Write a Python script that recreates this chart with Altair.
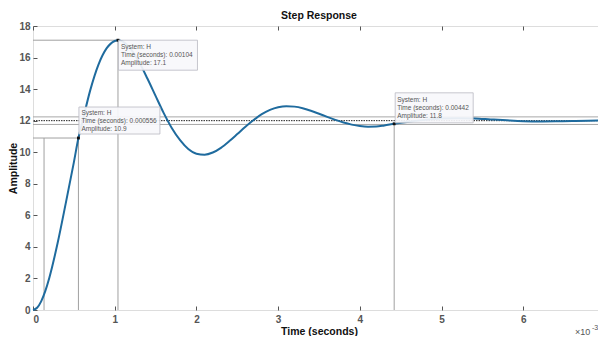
import altair as alt
import pandas as pd

# ---- data (time in ms, i.e. x 10^-3 s) ----
time_ms = [0, 0.05, 0.1, 0.15, 0.2, 0.3, 0.4, 0.5, 0.556, 0.6, 0.7, 0.8, 0.9, 1.0, 1.04,
           1.1, 1.2, 1.3, 1.4, 1.5, 1.6, 1.7, 1.8, 1.9, 2.0, 2.1, 2.2, 2.3, 2.4, 2.5,
           2.6, 2.7, 2.8, 2.9, 3.0, 3.1, 3.2, 3.3, 3.4, 3.5, 3.6, 3.7, 3.8, 3.9, 4.0,
           4.1, 4.2, 4.3, 4.42, 4.6, 4.8, 5.0, 5.2, 5.4, 5.6, 5.8, 6.0, 6.2, 6.4, 6.6,
           6.8, 7.0]
amplitude = [0, 0.14, 0.55, 1.2, 2.05, 4.21, 6.74, 9.36, 10.9, 11.82, 13.92, 15.54, 16.58, 17.05, 17.1,
             17.01, 16.52, 15.70, 14.67, 13.57, 12.48, 11.52, 10.76, 10.2, 9.9, 9.84, 9.98, 10.28, 10.69, 11.15,
             11.62, 12.04, 12.41, 12.68, 12.85, 12.92, 12.89, 12.79, 12.63, 12.44, 12.24, 12.05, 11.88, 11.75, 11.66,
             11.62, 11.63, 11.7, 11.8, 11.93, 12.05, 12.13, 12.16, 12.14, 12.08, 12.02, 11.97, 11.95, 11.96, 11.98,
             12.0, 12.01]

final_value = [12.0]
settle_band = [11.76, 12.24]

# characteristic guide segments: (x0, x1, y0, y1)
seg_x0 = [0, 1.04, 0, 0.135, 0.556, 4.42]
seg_x1 = [1.04, 1.04, 0.556, 0.135, 0.556, 4.42]
seg_y0 = [17.1, 0, 10.9, 0, 0, 0]
seg_y1 = [17.1, 17.1, 10.9, 10.9, 10.9, 11.8]

tip_t = [1.04, 0.556, 4.42]
tip_a = [17.1, 10.9, 11.8]
tip_time_s = ["0.00104", "0.000556", "0.00442"]
tip_amp_txt = ["17.1", "10.9", "11.8"]

x_ticks = [0, 1, 2, 3, 4, 5, 6, 7]
y_ticks = [0, 2, 4, 6, 8, 10, 12, 14, 16, 18]

FONT = "Liberation Sans"
xs = alt.Scale(domain=[0, 7], nice=False, zero=False)
ys = alt.Scale(domain=[0, 18], nice=False, zero=False)

curve_df = pd.DataFrame({"t": time_ms, "a": amplitude})
seg_df = pd.DataFrame({"x0": seg_x0, "x1": seg_x1, "y0": seg_y0, "y1": seg_y1})
tips_df = pd.DataFrame({"t": tip_t, "a": tip_a})

# bottom/left axes (with labels), inward ticks via negative offset
curve = alt.Chart(curve_df).mark_line(
    color="#1f6b9e", strokeWidth=2, interpolate="monotone"
).encode(
    x=alt.X("t:Q", scale=xs, axis=alt.Axis(
        orient="bottom", values=x_ticks, format="d", offset=-4, tickSize=4,
        tickColor="#555", domain=False, grid=False, labelPadding=4,
        labelFont=FONT, labelFontSize=10, labelFontWeight="bold", labelColor="#555",
        title="Time (seconds)", titleFont=FONT, titleFontSize=10.5, titleFontWeight="bold",
        titleColor="#111", titlePadding=2)),
    y=alt.Y("a:Q", scale=ys, axis=alt.Axis(
        orient="left", values=y_ticks, format="d", offset=-4, tickSize=4,
        tickColor="#555", domain=False, grid=False, labelPadding=3,
        labelFont=FONT, labelFontSize=10, labelFontWeight="bold", labelColor="#555",
        title="Amplitude", titleFont=FONT, titleFontSize=10.5, titleFontWeight="bold",
        titleColor="#111", titlePadding=0)),
)

# top/right axes (ticks only)
band = alt.Chart(pd.DataFrame({"v": settle_band, "x": [0, 7]})).mark_rule(
    color="#a8a8a8", strokeWidth=1
).encode(
    y=alt.Y("v:Q", scale=ys, axis=alt.Axis(
        orient="right", values=y_ticks, offset=-4, tickSize=4, tickColor="#555",
        domain=False, labels=False, grid=False, title=None)),
)
top_axis = alt.Chart(pd.DataFrame({"x": [0, 7]})).mark_point(opacity=0).encode(
    x=alt.X("x:Q", scale=xs, axis=alt.Axis(
        orient="top", values=x_ticks, offset=-4, tickSize=4, tickColor="#555",
        domain=False, labels=False, grid=False, title=None)),
)

steady = alt.Chart(pd.DataFrame({"v": final_value})).mark_rule(
    color="#222", strokeWidth=1, strokeDash=[1.5, 1]
).encode(y=alt.Y("v:Q", scale=ys, axis=None))

segs = alt.Chart(seg_df).mark_rule(color="#a0a0a0", strokeWidth=1).encode(
    x=alt.X("x0:Q", scale=xs, axis=None), x2="x1:Q",
    y=alt.Y("y0:Q", scale=ys, axis=None), y2="y1:Q",
)

markers = alt.Chart(tips_df).mark_point(
    shape="square", filled=True, size=8, color="#111", opacity=1
).encode(x=alt.X("t:Q", scale=xs, axis=None), y=alt.Y("a:Q", scale=ys, axis=None))

# data-tip boxes: (x offset, y offset, width, height, text dy)
box_geo = [(40, 15, 79, 30, 4), (41, -17.5, 81, 27, -28), (40, -16, 78, 30, -27)]
tip_layers = []
for i in range(3):
    xo, yo, w, h, tdy = box_geo[i]
    one = pd.DataFrame({
        "t": [tip_t[i]], "a": [tip_a[i]],
        "txt": ["System: H\nTime (seconds): " + tip_time_s[i] + "\nAmplitude: " + tip_amp_txt[i]],
    })
    rect = alt.Chart(one).mark_rect(
        width=w, height=h, xOffset=xo, yOffset=yo,
        fill="#f7f7fb", fillOpacity=0.92, stroke="#b9b9c2", strokeWidth=0.8
    ).encode(x=alt.X("t:Q", scale=xs, axis=None), y=alt.Y("a:Q", scale=ys, axis=None))
    txt = alt.Chart(one).mark_text(
        align="left", baseline="top", lineBreak="\n", lineHeight=8,
        font=FONT, fontSize=6.5, color="#555", dx=3, dy=tdy
    ).encode(x=alt.X("t:Q", scale=xs, axis=None), y=alt.Y("a:Q", scale=ys, axis=None),
             text="txt:N")
    tip_layers += [rect, txt]

exp_base = alt.Chart(pd.DataFrame({"x": [7], "y": [0]})).mark_text(
    align="left", baseline="middle", font=FONT, fontSize=9, color="#555", dx=-30, dy=22
).encode(x=alt.X("x:Q", scale=xs, axis=None), y=alt.Y("y:Q", scale=ys, axis=None),
         text=alt.value("×10"))
exp_sup = alt.Chart(pd.DataFrame({"x": [7], "y": [0]})).mark_text(
    align="left", baseline="middle", font=FONT, fontSize=7, color="#555", dx=-13, dy=18
).encode(x=alt.X("x:Q", scale=xs, axis=None), y=alt.Y("y:Q", scale=ys, axis=None),
         text=alt.value("-3"))

chart = alt.layer(
    band, top_axis, steady, segs, curve, markers, *tip_layers, exp_base, exp_sup
).resolve_axis(x="independent", y="independent").properties(
    width=572, height=284,
    padding={"left": 25, "top": 18, "right": -7, "bottom": 26},
    autosize=alt.AutoSizeParams(type="none"),
    title=alt.TitleParams("Step Response", font=FONT, fontSize=10.5, fontWeight="bold",
                          color="#111", anchor="middle", offset=0),
).configure_view(stroke="#6a6a6a", strokeWidth=1).configure(background="white")

chart.save("out.html", embed_options={"renderer": "svg", "actions": False})
